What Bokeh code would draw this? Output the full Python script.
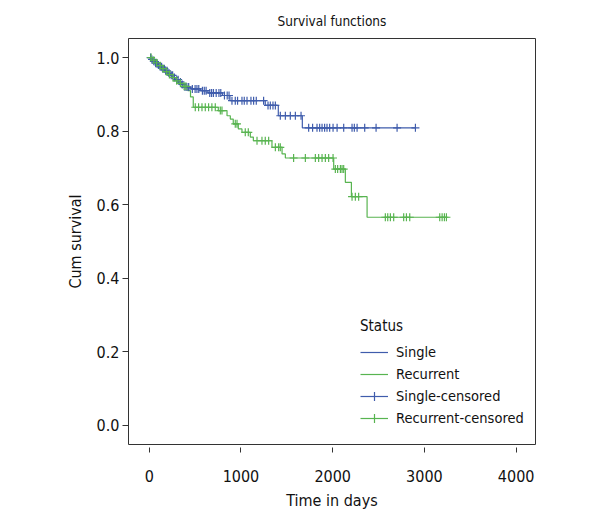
import numpy as np
from bokeh.plotting import figure
from bokeh.models import Range1d, FixedTicker, NumeralTickFormatter, Legend, LegendItem, Title
from bokeh.embed import file_html
from bokeh.resources import INLINE

# ---- data ----
single_times = [0, 20, 40, 60, 90, 110, 140, 170, 200, 230, 260, 290, 320, 350, 380,
                450, 560, 640, 800, 880, 1265, 1407, 1669]
single_surv = [1.0, 0.995, 0.99, 0.985, 0.98, 0.975, 0.97, 0.964, 0.958, 0.952, 0.946,
               0.94, 0.934, 0.927, 0.92, 0.915, 0.91, 0.904, 0.897, 0.883, 0.870, 0.842, 0.809]
single_censor = [15, 30, 50, 70, 85, 100, 120, 135, 150, 165, 180, 195, 215, 240, 255, 275,
                 300, 315, 340, 360, 390, 410, 430, 470, 500, 520, 540, 580, 600, 620, 660,
                 680, 700, 730, 760, 780, 820, 850, 870, 902, 938, 963, 1011, 1036, 1066,
                 1109, 1138, 1167, 1247, 1295, 1320, 1349, 1375, 1429, 1484, 1538, 1593, 1655,
                 1738, 1781, 1829, 1858, 1884, 1912, 1938, 1967, 2004, 2048, 2120, 2211, 2236,
                 2266, 2349, 2473, 2702, 2902]

recur_times = [0, 30, 60, 100, 130, 160, 200, 240, 280, 320, 360, 420, 450, 480, 753, 848,
               884, 916, 971, 1011, 1102, 1135, 1338, 1448, 1484, 2011, 2138, 2204, 2375]
recur_surv = [1.0, 0.993, 0.986, 0.978, 0.97, 0.962, 0.954, 0.946, 0.937, 0.93, 0.922, 0.91,
              0.893, 0.865, 0.856, 0.842, 0.833, 0.820, 0.806, 0.797, 0.784, 0.774, 0.756,
              0.738, 0.727, 0.697, 0.661, 0.622, 0.566]
recur_censor = [20, 50, 80, 120, 150, 190, 220, 260, 300, 340, 380, 400, 502, 538, 575, 611,
                647, 683, 720, 775, 793, 938, 957, 1047, 1080, 1175, 1229, 1265, 1302, 1375,
                1411, 1429, 1574, 1702, 1811, 1847, 1884, 1920, 1956, 2004, 2029, 2054, 2084,
                2102, 2120, 2211, 2247, 2283, 2574, 2600, 2629, 2665, 2774, 2804, 2840, 3167,
                3193, 3218, 3240]

x_ticks = [0, 1000, 2000, 3000, 4000]
y_ticks = [0.0, 0.2, 0.4, 0.6, 0.8, 1.0]

BLUE = "#3f5cac"
GREEN = "#58b450"
FONT = "DejaVu Sans Condensed, Roboto, sans-serif"
TXT = "#111111"


def step_xy(times, surv, censor):
    xs = list(times) + [max(censor)]
    ys = list(surv) + [surv[-1]]
    return xs, ys


def censor_y(times, surv, censor):
    idx = np.searchsorted(np.array(times), np.array(censor), side="right") - 1
    return list(np.array(surv)[idx])


p = figure(frame_width=407, frame_height=406,
           x_range=Range1d(-226, 4211), y_range=Range1d(-0.052, 1.052),
           output_backend="svg", toolbar_location=None,
           min_border_left=128, min_border_top=38, min_border_right=57, min_border_bottom=66)
p.title = None
p.add_layout(Title(text="Survival functions", align="center", text_font=FONT,
                   text_font_size="13.5px", text_font_style="normal", text_color=TXT,
                   standoff=19), "above")

sx, sy = step_xy(single_times, single_surv, single_censor)
rx, ry = step_xy(recur_times, recur_surv, recur_censor)
r_single = p.step(sx, sy, mode="after", line_color=BLUE, line_width=1.2)
r_recur = p.step(rx, ry, mode="after", line_color=GREEN, line_width=1.2)
c_single = p.scatter(single_censor, censor_y(single_times, single_surv, single_censor),
                     marker="cross", size=8, line_color=BLUE, line_width=1.2)
c_recur = p.scatter(recur_censor, censor_y(recur_times, recur_surv, recur_censor),
                    marker="cross", size=8, line_color=GREEN, line_width=1.2)

p.xgrid.visible = False
p.ygrid.visible = False
p.outline_line_color = "#333333"
p.outline_line_width = 1
p.background_fill_color = "white"
p.border_fill_color = "white"

p.xaxis.ticker = FixedTicker(ticks=x_ticks)
p.yaxis.ticker = FixedTicker(ticks=y_ticks)
p.yaxis.formatter = NumeralTickFormatter(format="0.0")
p.xaxis.axis_label = "Time in days"
p.yaxis.axis_label = "Cum survival"
for ax in (p.xaxis[0], p.yaxis[0]):
    ax.axis_line_color = None
    ax.minor_tick_line_color = None
    ax.major_tick_line_color = "#333333"
    ax.major_label_text_font = FONT
    ax.major_label_text_font_size = "16px"
    ax.major_label_text_color = TXT
    ax.axis_label_text_font = FONT
    ax.axis_label_text_font_size = "16px"
    ax.axis_label_text_font_style = "normal"
    ax.axis_label_text_color = TXT
p.yaxis.major_tick_in = 0
p.yaxis.major_tick_out = 6
p.yaxis.major_label_standoff = 3
p.yaxis.axis_label_standoff = 9
p.xaxis.major_tick_in = -3
p.xaxis.major_tick_out = 8
p.xaxis.major_label_standoff = 17
p.xaxis.axis_label_standoff = 6

legend = Legend(items=[
    LegendItem(label="Single", renderers=[r_single]),
    LegendItem(label="Recurrent", renderers=[r_recur]),
    LegendItem(label="Single-censored", renderers=[r_single, c_single]),
    LegendItem(label="Recurrent-censored", renderers=[r_recur, c_recur]),
], location=(232, 15), title="Status")
legend.title_text_font = FONT
legend.title_text_font_size = "15px"
legend.title_text_font_style = "normal"
legend.title_text_color = TXT
legend.title_standoff = 6
legend.label_text_font = FONT
legend.label_text_font_size = "14.5px"
legend.label_text_color = TXT
legend.glyph_width = 28
legend.glyph_height = 22
legend.label_height = 22
legend.label_standoff = 8
legend.spacing = 0
legend.padding = 0
legend.margin = 0
legend.background_fill_alpha = 0
legend.border_line_alpha = 0
p.add_layout(legend, "center")

open("out.html", "w").write(file_html(p, INLINE))
